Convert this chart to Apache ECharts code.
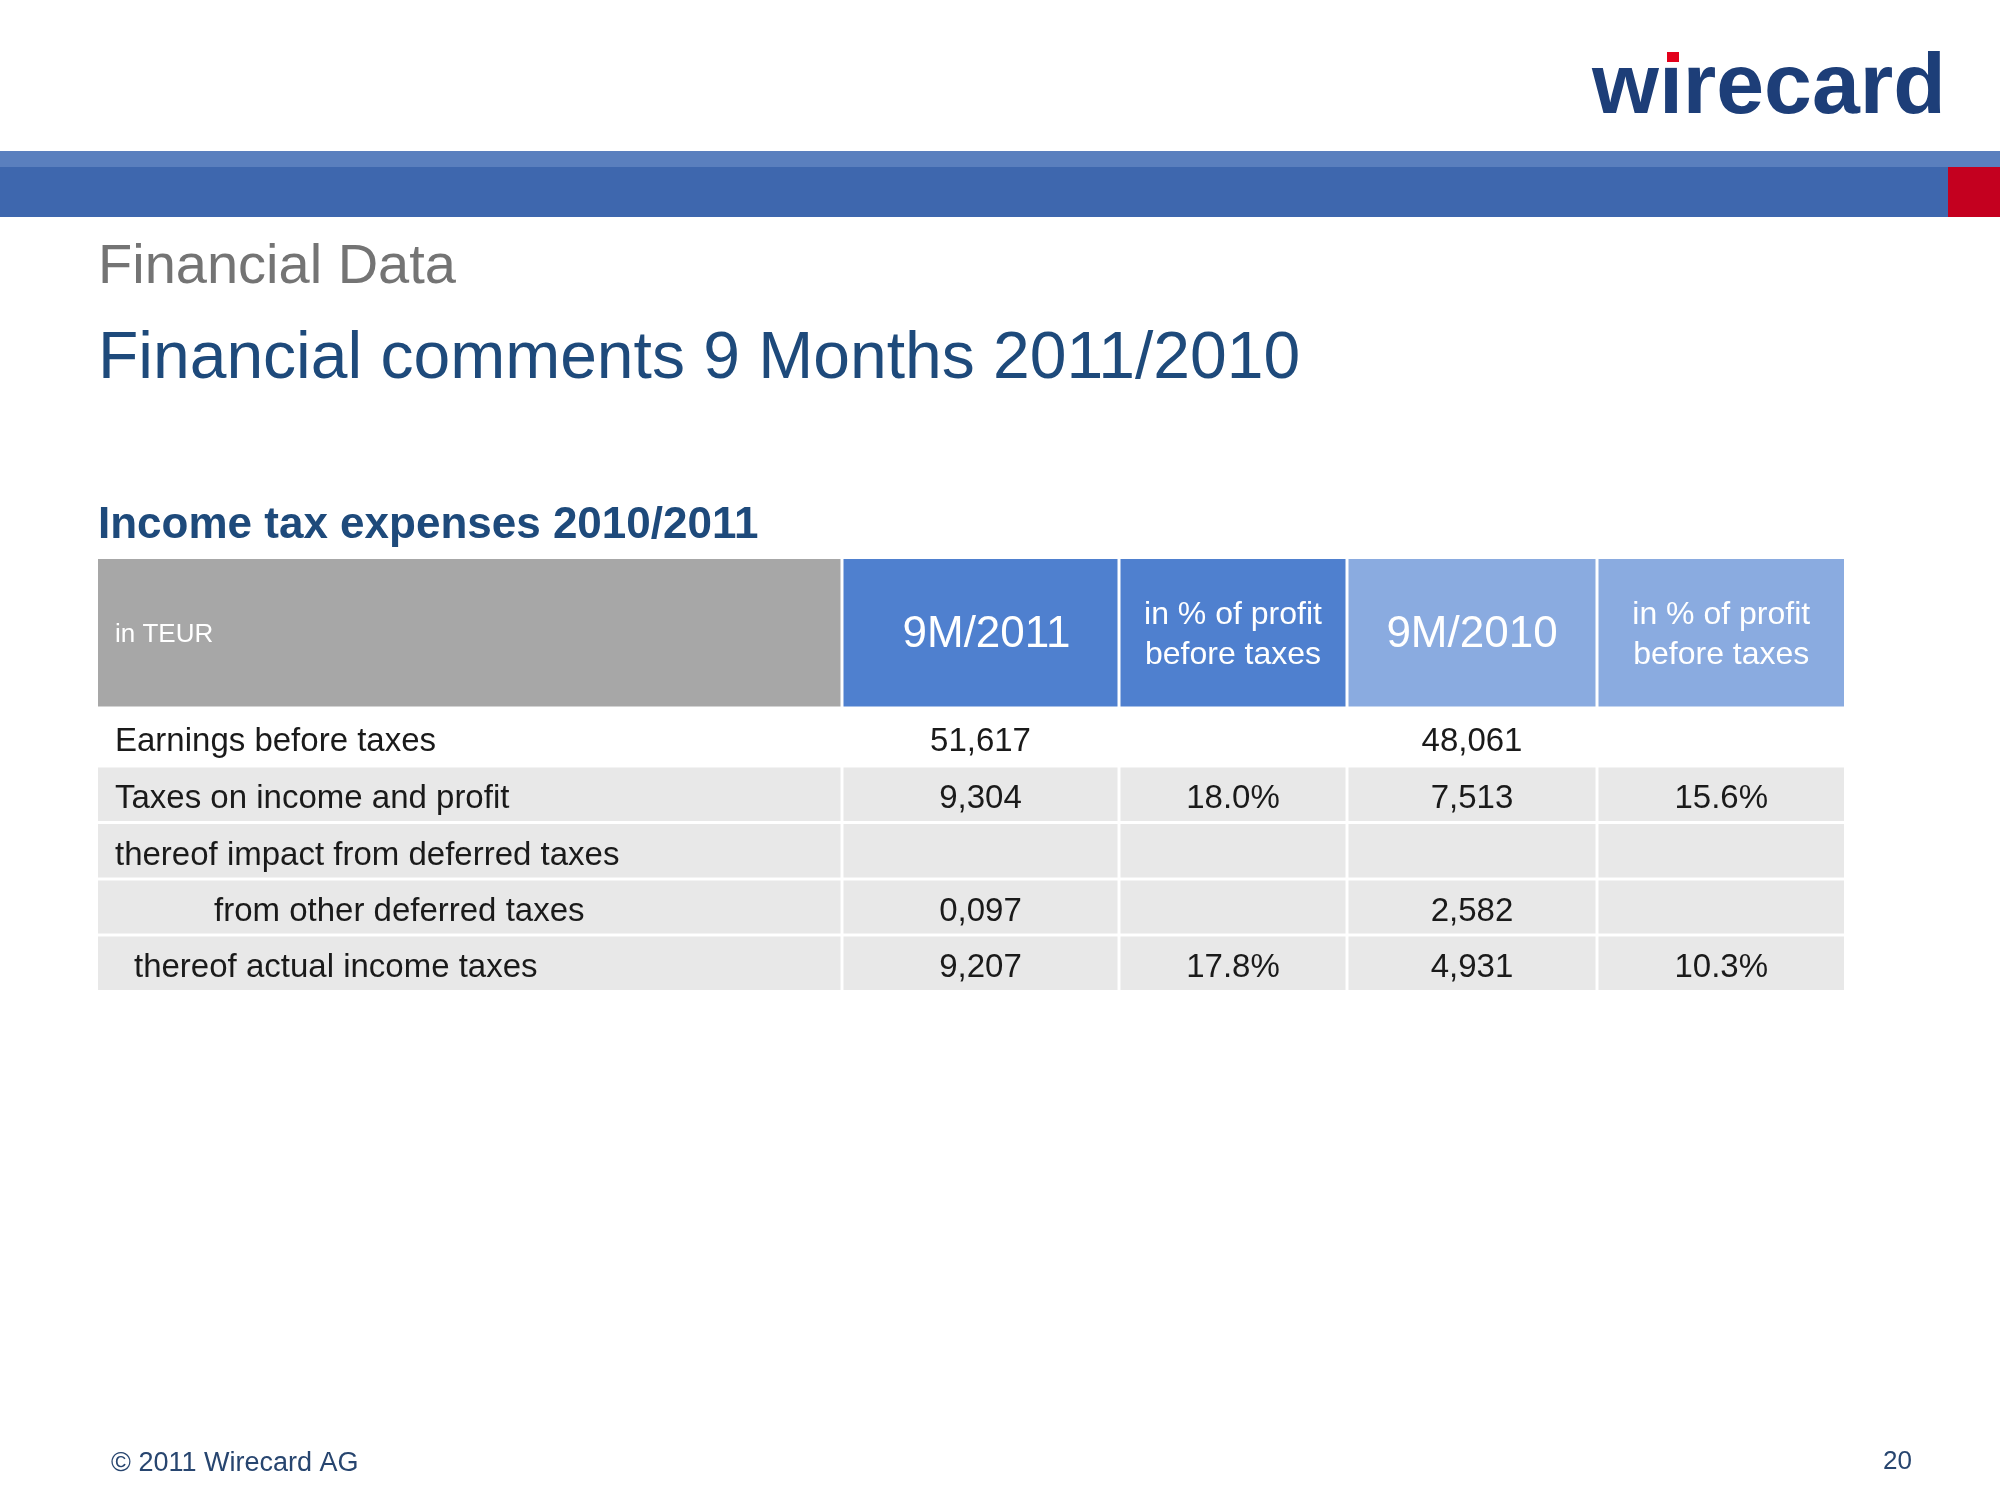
<!DOCTYPE html>
<html><head><meta charset="utf-8">
<script src="https://cdn.jsdelivr.net/npm/echarts@6/dist/echarts.min.js"></script>
<style>html,body{margin:0;padding:0;background:#fff}#c{width:2000px;height:1500px}</style>
</head><body><div id="c"></div>
<script>
// ---- data ----
const headerLabels = ['in TEUR', '9M/2011', 'in % of profit\nbefore taxes', '9M/2010', 'in % of profit\nbefore taxes'];
const rowLabels = ['Earnings before taxes', 'Taxes on income and profit', 'thereof impact from deferred taxes', 'from other deferred taxes', 'thereof actual income taxes'];
const values2011 = ['51,617', '9,304', '', '0,097', '9,207'];
const pct2011 = ['', '18.0%', '', '', '17.8%'];
const values2010 = ['48,061', '7,513', '', '2,582', '4,931'];
const pct2010 = ['', '15.6%', '', '', '10.3%'];
const pageTitle = 'Financial comments 9 Months 2011/2010';
const sectionTitle = 'Financial Data';
const tableTitle = 'Income tax expenses 2010/2011';
const footerText = '\u00A9 2011 Wirecard AG';
const pageNumber = '20';

// ---- layout / style ----
const FONT = '"Liberation Sans", Arial, sans-serif';
const layout = {
  left: 98, top: 559, width: 1746, height: 431,
  colEdges: [0, 744, 1021, 1249, 1499, 1746],
  rowEdges: [0, 149, 207, 263.5, 320, 376, 431],
  gap: 3,
  indents: [17, 17, 17, 17, 116, 36],
  headerShift: [0, 6, 0, 0, 0]
};
const headerFills = ['#a7a7a7', '#4f80cf', '#4f80cf', '#8aabe0', '#8aabe0'];
const headerSizes = [26, 44, 32, 44, 32];
const bodyFills = ['#ffffff', '#e8e8e8', '#e8e8e8', '#e8e8e8', '#e8e8e8'];

const columnsData = [rowLabels, values2011, pct2011, values2010, pct2010];
function cellText(c, r) {
  if (r === 0) return headerLabels[c];
  return columnsData[c][r - 1];
}
const cells = [];
for (let r = 0; r <= rowLabels.length; r++) {
  for (let c = 0; c < headerLabels.length; c++) cells.push([c, r]);
}

function renderItem(params, api) {
  const c = api.value(0), r = api.value(1);
  const nC = headerLabels.length, nR = rowLabels.length + 1;
  const p0 = api.coord([layout.colEdges[c], layout.rowEdges[r]]);
  const p1 = api.coord([layout.colEdges[c + 1], layout.rowEdges[r + 1]]);
  const h = layout.gap / 2;
  const left = p0[0] + (c > 0 ? h : 0), right = p1[0] - (c < nC - 1 ? h : 0);
  const top = p0[1] + (r > 0 ? h : 0), bottom = p1[1] - (r < nR - 1 ? h : 0);
  const fill = r === 0 ? headerFills[c] : bodyFills[r - 1];
  const txt = cellText(c, r);
  const fontSize = r === 0 ? headerSizes[c] : 33;
  const cy = (top + bottom) / 2 + (r === 0 ? 2 : 5);
  const children = [{
    type: 'rect',
    shape: { x: left, y: top, width: right - left, height: bottom - top },
    style: { fill: fill }
  }];
  if (txt) {
    children.push({
      type: 'text',
      style: {
        text: txt,
        x: c === 0 ? left + layout.indents[r] : (left + right) / 2 + (r === 0 ? layout.headerShift[c] : 0),
        y: cy,
        align: c === 0 ? 'left' : 'center',
        verticalAlign: 'middle',
        fill: r === 0 ? '#ffffff' : '#1a1a1a',
        fontSize: fontSize,
        fontFamily: FONT,
        lineHeight: 40
      }
    });
  }
  return { type: 'group', children: children };
}

const chart = echarts.init(document.getElementById('c'), null, { renderer: 'canvas', width: 2000, height: 1500 });
chart.setOption({
  animation: false,
  backgroundColor: '#ffffff',
  grid: { left: layout.left, top: layout.top, width: layout.width, height: layout.height },
  xAxis: { type: 'value', min: 0, max: layout.width, show: false },
  yAxis: { type: 'value', min: 0, max: layout.height, inverse: true, show: false },
  series: [{
    type: 'custom',
    renderItem: renderItem,
    data: cells,
    clip: false,
    silent: true
  }],
  graphic: [
    { type: 'rect', shape: { x: 0, y: 151, width: 2000, height: 16 }, style: { fill: '#5a7fbe' } },
    { type: 'rect', shape: { x: 0, y: 167, width: 2000, height: 50 }, style: { fill: '#3e67ae' } },
    { type: 'rect', shape: { x: 1948, y: 167, width: 52, height: 50 }, style: { fill: '#c4001f' } },
    { type: 'text', style: { text: 'w\u0131recard', x: 1592, y: 89, fontSize: 86, fontWeight: 'bold', fontFamily: FONT, fill: '#1d3e78', verticalAlign: 'middle' } },
    { type: 'rect', shape: { x: 1667, y: 52, width: 12, height: 10 }, style: { fill: '#e3001b' } },
    { type: 'text', style: { text: sectionTitle, x: 98, y: 268, fontSize: 56, fontFamily: FONT, fill: '#747474', verticalAlign: 'middle' } },
    { type: 'text', style: { text: pageTitle, x: 98, y: 360, fontSize: 66, fontFamily: FONT, fill: '#1e4a7b', verticalAlign: 'middle' } },
    { type: 'text', style: { text: tableTitle, x: 98, y: 526, fontSize: 44, fontWeight: 'bold', fontFamily: FONT, fill: '#1e4a7b', verticalAlign: 'middle' } },
    { type: 'text', style: { text: footerText, x: 111, y: 1464, fontSize: 27, fontFamily: FONT, fill: '#27456f', verticalAlign: 'middle' } },
    { type: 'text', style: { text: pageNumber, x: 1883, y: 1462, fontSize: 26, fontFamily: FONT, fill: '#27456f', verticalAlign: 'middle' } }
  ]
});
</script></body></html>
